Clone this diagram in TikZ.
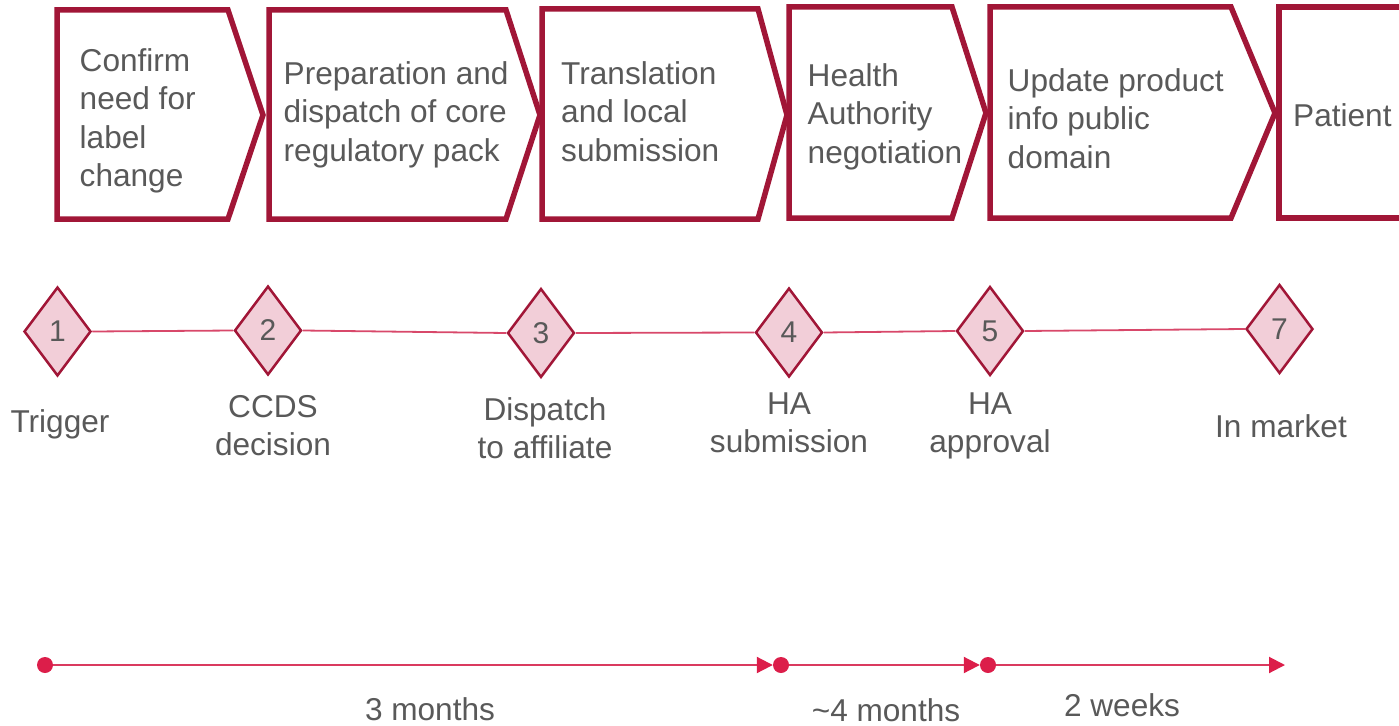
\documentclass[tikz,border=0pt]{standalone}
\usepackage{fontspec}
\setmainfont{Liberation Sans}
\usetikzlibrary{shapes.geometric,arrows.meta}

\definecolor{crimson}{RGB}{161,22,55}
\definecolor{pinkfill}{RGB}{242,206,216}
\definecolor{linkred}{RGB}{216,72,106}
\definecolor{spanred}{RGB}{218,58,95}
\definecolor{dotred}{RGB}{220,30,74}
\definecolor{txtgray}{RGB}{89,89,89}

\tikzset{
  chev/.style={draw=crimson, line width=5.5pt, line join=miter, fill=white},
  % multi-line nodes: the base anchor sits on the last line's baseline
  steptext/.style={anchor=base west, align=left, inner sep=0pt, text=txtgray,
    font=\fontsize{31.6}{38.5}\selectfont},
  milestone/.style={diamond, draw=crimson, fill=pinkfill, line width=2.5pt,
    minimum width=67pt, minimum height=89pt, inner sep=0pt, text=txtgray,
    font=\fontsize{30}{36}\selectfont},
  mlabel/.style={anchor=base, align=center, inner sep=0pt, text=txtgray,
    font=\fontsize{31.6}{38}\selectfont},
  link/.style={draw=linkred, line width=1.8pt},
  tdot/.style={circle, fill=dotred, minimum size=16pt, inner sep=0pt},
  span/.style={draw=spanred, line width=2pt,
    -{Triangle[length=16pt,width=16pt,color=dotred]}}
}

\begin{document}
\begin{tikzpicture}[x=1pt,y=-1pt]
\useasboundingbox (0,0) rectangle (1399,725);
\clip (0,0) rectangle (1399,725);

% process chevrons
\draw[chev] (57,10) -- (228,10) -- (263,115) -- (228,219) -- (57,219) -- cycle;
\draw[chev] (269,10) -- (506,10) -- (540,115) -- (506,219) -- (269,219) -- cycle;
\draw[chev] (542,9) -- (758,9) -- (787,115) -- (758,219) -- (542,219) -- cycle;
\draw[chev] (789,7) -- (952,7) -- (986,113) -- (952,218) -- (789,218) -- cycle;
\draw[chev] (990,7) -- (1231,7) -- (1275,113) -- (1231,218) -- (990,218) -- cycle;
\draw[chev] (1420,7) -- (1279,7) -- (1279,218) -- (1420,218);

\node[steptext] (p1) at (79.5,186.5) {Confirm\\need for\\label\\change};
\node[steptext] (p2) at (283.5,161) {Preparation and\\dispatch of core\\regulatory pack};
\node[steptext] (p3) at (561,161) {Translation\\and local\\submission};
\node[steptext] (p4) at (807.5,163) {Health\\Authority\\negotiation};
\node[steptext] (p5) at (1007.5,168) {Update product\\info public\\domain};
\node[steptext] (p6) at (1293,126) {Patient};

% milestones
\node[milestone] (d1) at (57.5,331.5) {1};
\node[milestone] (d2) at (268,330.5) {2};
\node[milestone] (d3) at (541,333) {3};
\node[milestone] (d4) at (789,332.5) {4};
\node[milestone] (d5) at (990,331) {5};
\node[milestone] (d7) at (1279.5,329) {7};

\draw[link] (d1.east) -- (d2.west);
\draw[link] (d2.east) -- (d3.west);
\draw[link] (d3.east) -- (d4.west);
\draw[link] (d4.east) -- (d5.west);
\draw[link] (d5.east) -- (d7.west);

\node[mlabel] (m1) at (60,432) {Trigger};
\node[mlabel] (m2) at (273,455) {CCDS\\decision};
\node[mlabel] (m3) at (545,458) {Dispatch\\to affiliate};
\node[mlabel] (m4) at (789,452) {HA\\submission};
\node[mlabel] (m5) at (990,452) {HA\\approval};
\node[mlabel] (m7) at (1281,437) {In market};

% durations
\node[tdot] (t1) at (45,665) {};
\node[tdot] (t2) at (781,665) {};
\node[tdot] (t3) at (988,665) {};
\coordinate (tend) at (1285,665);

\draw[span] (t1) -- (t2);
\draw[span] (t2) -- (t3);
\draw[span] (t3) -- (tend);

\node[mlabel] (s1) at (430,720) {3 months};
\node[mlabel] (s2) at (886,721) {\textasciitilde4 months};
\node[mlabel] (s3) at (1122,716) {2 weeks};
\end{tikzpicture}
\end{document}
